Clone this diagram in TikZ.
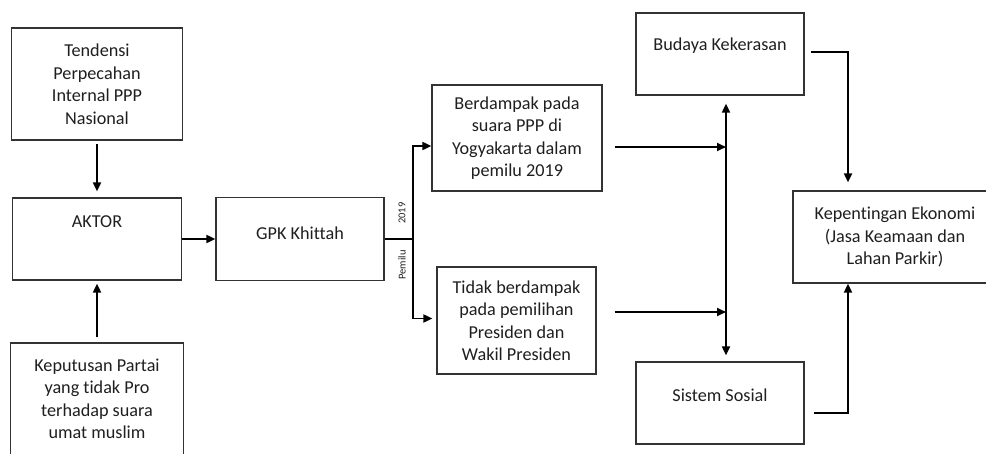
\documentclass[tikz,border=0pt]{standalone}
\usepackage{fontspec}
\setmainfont[Ligatures=NoCommon]{Carlito}
\usetikzlibrary{shapes,%
	positioning,%
	arrows.meta%
}

\begin{document}
\begin{tikzpicture}[y=-1pt, x=1pt, >={Triangle[length=9pt,width=8pt]},
	font=\fontsize{18.2}{22.5}\selectfont, text=black!88]
	\useasboundingbox (0,0) rectangle (986,453);
	\clip (0,0) rectangle (986,453);
	\begin{scope}[every node/.style={rectangle, draw=black!80, line width=1.2pt, align=center, inner sep=0pt}]
	\node[minimum width=171pt, minimum height=112pt] (TE) at (97,84) {Tendensi\\Perpecahan\\Internal PPP\\Nasional};
	\node[minimum width=169pt, minimum height=82pt] (AK) at (97,239) {};
	\node[minimum width=173pt, minimum height=112pt] (KP) at (97,399) {Keputusan Partai\\yang tidak Pro\\terhadap suara\\umat muslim};
	\node[minimum width=168pt, minimum height=83pt] (GPK) at (300,239) {};
	\end{scope}
	
	\begin{scope}[every node/.style={rectangle, draw=black!80, line width=1.2pt, align=center, inner sep=0pt}]
	\node[minimum width=170pt, minimum height=106pt] (BE) at (517,138) {Berdampak pada\\suara PPP di\\Yogyakarta dalam\\pemilu 2019};
	\node[minimum width=159pt, minimum height=107pt] (TI) at (516.5,320.5) {Tidak berdampak\\pada pemilihan\\Presiden dan\\Wakil Presiden};
	\node[minimum width=168pt, minimum height=82pt] (BU) at (720,54) {};
	\node[minimum width=168pt, minimum height=82pt] (SI) at (720,403) {};
	\node[minimum width=204pt, minimum height=92pt] (KE) at (895,237) {Kepentingan Ekonomi\\(Jasa Keamaan dan\\Lahan Parkir)};
	\end{scope}
	
	% teks di bagian atas kotak
	\begin{scope}[every node/.style={align=center}]
	\node (AKt) at (97,222) {AKTOR};
	\node (GPKt) at (300,233) {GPK Khittah};
	\node (BUt) at (720,46) {Budaya Kekerasan};
	\node (SIt) at (720,395) {Sistem Sosial};
	\end{scope}
	\begin{scope}[every node/.style={rotate=90, font=\fontsize{10.5}{12}\selectfont}]
	\node (TH) at (402,213) {2019};
	\node (PM) at (402,265) {Pemilu};
	\end{scope}
	
	\coordinate (J) at (413,239);
	\coordinate (M1) at (726,147);
	\coordinate (M2) at (726,312);
	\begin{scope}[every path/.style={draw=black, line width=1.8pt}]
	\path [->, shorten <=3pt, shorten >=6pt] (TE) -- (AK);
	\path [->, shorten <=5pt, shorten >=3pt] (KP) -- (AK);
	\path [->] (AK) -- (GPK);
	\path (GPK) -- (J);
	\path [->] (J) |- ([yshift=-8pt]BE.west);
	\path [->, shorten >=4pt] (J) |- ([yshift=2pt]TI.west);
	\end{scope}
	\begin{scope}[every path/.style={draw=black, line width=1.8pt}]
	\path [->, shorten <=12pt] (BE.east |- M1) -- (M1);
	\path [->, shorten <=18pt] (TI.east |- M2) -- (M2);
	\path [<->, shorten <=8pt, shorten >=6pt] ([xshift=6pt]BU.south) -- ([xshift=6pt]SI.north);
	\path [->, shorten <=6pt, shorten >=8pt] ([yshift=2pt]BU.east) -| ([xshift=-47pt]KE.north);
	\path [->, shorten <=9pt] ([yshift=-10pt]SI.east) -| ([xshift=-47pt]KE.south);
	\end{scope}
\end{tikzpicture}
\end{document}
